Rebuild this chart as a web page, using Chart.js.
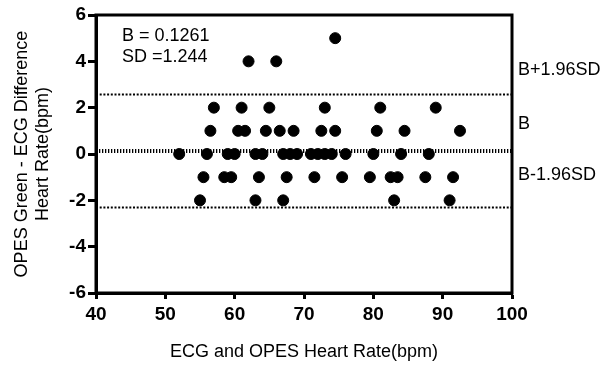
<!DOCTYPE html>
<html>
<head>
<meta charset="utf-8">
<script src="https://cdn.jsdelivr.net/npm/chart.js@4"></script>
<style>
  html, body { margin: 0; padding: 0; background: #fff; }
</style>
</head>
<body>
<canvas id="baChart" width="602" height="368"></canvas>
<script>
// mean heart rate (ECG and OPES) vs. difference OPES - ECG
const rate = [
  74.5,
  62, 66,
  57, 61, 65, 73, 81, 89,
  56.5, 60.5, 61.5, 64.5, 66.5, 68.5, 72.5, 74.5, 80.5, 84.5, 92.5,
  52, 56, 59, 60, 63, 64, 67, 68, 69, 71, 72, 73, 74, 76, 80, 84, 88,
  55.5, 58.5, 59.5, 63.5, 67.5, 71.5, 75.5, 79.5, 82.5, 83.5, 87.5, 91.5,
  55, 63, 67, 83, 91
];
const diff = [
  5,
  4, 4,
  2, 2, 2, 2, 2, 2,
  1, 1, 1, 1, 1, 1, 1, 1, 1, 1, 1,
  0, 0, 0, 0, 0, 0, 0, 0, 0, 0, 0, 0, 0, 0, 0, 0, 0,
  -1, -1, -1, -1, -1, -1, -1, -1, -1, -1, -1, -1,
  -2, -2, -2, -2, -2
];
const bias = 0.1261;
const sd = 1.244;
const upperLimit = 2.564;
const lowerLimit = -2.312;
const xRange = [40, 100];
const yRange = [-6, 6];
const limitNames = ['B+1.96SD', 'B', 'B-1.96SD'];

const font = '"Liberation Sans", Arial, Helvetica, sans-serif';

const extras = {
    id: 'extras',
    afterDraw(chart) {
        const { ctx, chartArea: a } = chart;
        ctx.save();
        ctx.strokeStyle = '#000';
        ctx.lineWidth = 3;
        ctx.strokeRect(a.left, a.top, a.right - a.left, a.bottom - a.top);

        ctx.fillStyle = '#000';
        ctx.font = '18px ' + font;
        ctx.textBaseline = 'middle';
        ctx.textAlign = 'left';
        ctx.fillText('B = ' + bias, a.left + 26, 36);
        ctx.fillText('SD =' + sd, a.left + 26, 57);

        const labelY = [70, 124, 175];
        limitNames.forEach((t, i) => ctx.fillText(t, a.right + 6, labelY[i]));
        ctx.restore();
    }
};

const limitLine = (y, width, dash) => ({
    type: 'scatter',
    data: [{ x: xRange[0], y: y }, { x: xRange[1], y: y }],
    showLine: true,
    borderColor: '#000',
    borderWidth: width,
    borderDash: dash,
    pointRadius: 0,
    order: 2
});

new Chart(document.getElementById('baChart').getContext('2d'), {
    type: 'scatter',
    data: {
        datasets: [
            {
                data: rate.map((r, i) => ({ x: r, y: diff[i] })),
                backgroundColor: '#000',
                borderColor: '#000',
                pointRadius: 5.5,
                order: 1
            },
            limitLine(upperLimit, 2, [2, 1.7]),
            limitLine(bias, 4, [1.3, 1.7]),
            limitLine(lowerLimit, 2, [2, 1.7])
        ]
    },
    options: {
        responsive: false,
        animation: false,
        layout: { padding: { left: 0, right: 90, top: 15, bottom: 0 } },
        plugins: { legend: { display: false }, tooltip: { enabled: false } },
        scales: {
            x: {
                min: xRange[0], max: xRange[1],
                afterFit: (s) => { s.height = 75; },
                border: { color: '#000', width: 3 },
                grid: { drawOnChartArea: false, color: '#000', tickLength: 6, tickWidth: 3 },
                ticks: { stepSize: 10, color: '#000', padding: 4, font: { family: font, size: 19, weight: 'bold' } },
                title: {
                    display: true, text: 'ECG and OPES Heart Rate(bpm)', color: '#000',
                    font: { family: font, size: 18 }, padding: { top: 0, bottom: 5 }
                }
            },
            y: {
                min: yRange[0], max: yRange[1],
                afterFit: (s) => { s.width = 96; },
                border: { color: '#000', width: 3 },
                grid: { drawOnChartArea: false, color: '#000', tickLength: 8, tickWidth: 3 },
                ticks: { stepSize: 2, color: '#000', padding: 2, font: { family: font, size: 19, weight: 'bold' } },
                title: {
                    display: true, text: ['OPES Green - ECG Difference', 'Heart Rate(bpm)'], color: '#000',
                    font: { family: font, size: 18 }, padding: { top: 11, bottom: 0 }
                }
            }
        }
    },
    plugins: [extras]
});
</script>
</body>
</html>
